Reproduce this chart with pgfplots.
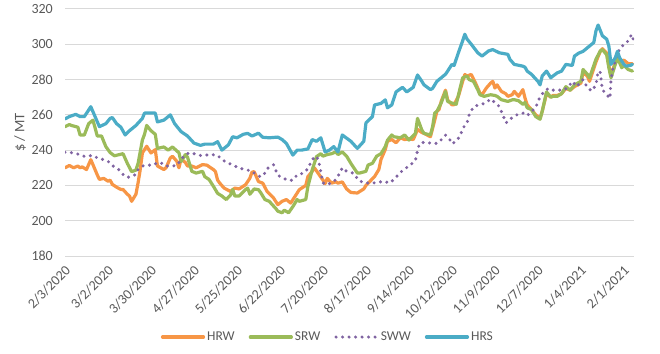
\documentclass[border=0pt]{standalone}
\usepackage{pgfplots}
\pgfplotsset{compat=1.18}
\usepackage{fontspec}
\setmainfont{Carlito}
\definecolor{hrw}{HTML}{F79646}
\definecolor{srw}{HTML}{9BBB59}
\definecolor{sww}{HTML}{8064A2}
\definecolor{hrs}{HTML}{4BACC6}
\definecolor{labelgray}{HTML}{595959}
\definecolor{gridgray}{HTML}{D9D9D9}
\begin{document}
\begin{tikzpicture}
\path[use as bounding box] (-65bp,-98bp) rectangle (595bp,256bp);
\begin{axis}[
  at={(0,0)}, anchor=south west,
  scale only axis, width=569bp, height=247bp,
  xmin=0, xmax=264.7, ymin=180, ymax=320,
  ytick={180,200,...,320},
  xtick={0,20,...,260},
  xticklabels={2/3/2020,3/2/2020,3/30/2020,4/27/2020,5/25/2020,6/22/2020,7/20/2020,8/17/2020,9/14/2020,10/12/2020,11/9/2020,12/7/2020,1/4/2021,2/1/2021},
  ymajorgrids, grid style={draw=gridgray, line width=1bp},
  axis line style={draw=none},
  tick style={draw=none},
  /pgf/number format/assume math mode=true,
  tick label style={font=\fontsize{14bp}{16bp}\selectfont, text=labelgray},
  yticklabel style={anchor=east, inner sep=0pt, xshift=-12bp},
  xticklabel style={xshift=3bp, yshift=-12bp, rotate=45, anchor=east, inner sep=0pt},
  ylabel={\$ / MT},
  every axis y label/.style={at={(axis description cs:-0.079,0.5)}, rotate=90, anchor=center, font=\fontsize{14.5bp}{16bp}\selectfont, text=labelgray},
  legend columns=4,
  legend style={at={(0.462,-0.328)}, anchor=center, draw=none, fill=none, font=\fontsize{13.5bp}{16bp}\selectfont, text=labelgray, inner sep=0pt, nodes={inner sep=2bp}, /tikz/every even column/.append style={column sep=12bp}},
  legend image code/.code={\draw[#1] (0bp,0bp) -- (41bp,0bp);},
  every axis plot/.append style={line cap=round, line join=round},
]
\addplot[hrw, line width=3.2bp] coordinates {
(0,230)(2,231.3)(4,230)(6,231)(7,230)(8,230.5)(10,229)(12,234.6)(13,231.8)(15,226)(16,223.4)(18,224)(20,222.4)(21,223)(22,220.6)(24,219)(26,217.7)(27,217.7)(29,215)(30,214)(31,211)(33,215)(34,221.5)(35,229)(36,238.4)(38,242.2)(39,240.3)(40,238.4)(42,240.3)(43,231)(46,229)(47,230)(49,235.6)(50,236.5)(52,233.7)(53,230)(54,235)(56,233)(57,231)(59,231)(61,230)(64,231.8)(66,231.5)(69,229)(70,227.8)(71,223)(72,221.3)(74,218.5)(77,216.6)(79,218.5)(81,218)(84,220.4)(86,224.1)(87,227.5)(88,227.8)(90,222.2)(92,221.3)(94,216.6)(97,212.9)(99,209.1)(101,211)(103,212)(105,210)(107,213.8)(109,217.6)(112,220)(113,225)(115,228)(116,230)(118,226.5)(120,223)(121,221)(122,224)(124,221.3)(126,222)(127,221.3)(129,222)(131,218)(133,216)(136,215.7)(137,216.5)(139,218)(140,220)(142,222.5)(144,225)(146,229)(147,234.7)(149,240.4)(150,245)(152,246)(154,244.2)(156,247)(158,246)(160,246.5)(162,246)(164,251.7)(166,250)(167,249.5)(170,247.6)(172,257)(173,262)(174,263)(175,267.6)(177,274)(178,268.5)(180,265.7)(181,265.7)(183,270.5)(185,279)(186,282.9)(187,282)(189,282.9)(191,278)(192,275.2)(193,272.4)(194,271.4)(196,275.2)(198,278)(199,279)(200,275.2)(201,277)(203,273.3)(205,272)(206,270.5)(208,271.4)(209,273.3)(211,270.5)(213,274.3)(214,269.5)(215,265.7)(217,263)(219,260)(221,258)(222,262)(224,272)(226,270)(227,271)(229,271)(231,272)(233,275)(235,274)(237,276)(240,278)(241,284)(243,282)(244,279)(247,290)(249,296)(250,297.5)(252,295)(253,288)(254,282)(256,290)(257,292)(259,290.5)(260,291)(262,289)(264,289)
};
\addlegendentry{HRW}
\addplot[srw, line width=3.2bp] coordinates {
(0,253.3)(2,254.5)(3,254)(6,253)(7,248.6)(9,248.6)(11,255)(13,257)(14,252.6)(15,248)(17,248)(19,242)(21,238.6)(23,236.8)(27,238)(29,232.5)(31,227.8)(33,228.7)(34,232.5)(36,245.7)(37,249)(38,254)(40,251)(42,249)(43,241)(46,241.8)(48,240)(50,241.8)(53,238.5)(54,233.5)(56,237.5)(57,236)(59,228)(61,227)(64,228)(65,225)(67,223.4)(69,219.6)(71,215.5)(73,214)(75,212)(77,214.5)(78,217.7)(79,214)(81,214)(84,217.7)(85,218.5)(86,215)(88,218)(90,217.6)(91,216)(92,214)(93,212)(95,211)(98,207)(99,205.4)(101,204.5)(102,206)(104,204.5)(106,208)(108,212)(109,211)(112,212)(113,219.4)(115,228.8)(117,236.3)(119,238)(120,236.6)(122,237.5)(124,238)(126,239)(127,237.5)(129,239)(131,236.6)(133,232.5)(136,227)(137,227)(140,228)(141,231.6)(143,232.5)(145,236.6)(147,238)(149,242)(150,245.6)(152,248.6)(153,247.6)(156,247)(158,248.6)(160,245.7)(163,249.5)(164,258)(166,251.4)(167,249.5)(170,248.6)(171,253.3)(172,261)(173,262)(175,266.7)(177,273.3)(178,267.6)(180,266.7)(182,266)(184,276.2)(185,281)(187,282)(188,280)(190,279)(192,274.3)(193,271.4)(195,270.5)(198,271.4)(200,271)(201,270.5)(203,268.6)(206,267.6)(208,268.5)(209,268.6)(211,268)(213,266)(214,267)(215,264)(217,263)(219,259)(221,257.5)(222,262)(224,273)(226,270)(227,270.5)(229,270.5)(231,272)(233,276)(235,274)(237,277)(240,279)(241,285.7)(243,283)(244,281)(247,291.5)(249,296.2)(250,297)(252,294)(253,286.7)(254,281)(256,288.6)(257,292.4)(259,286.7)(260,288)(262,285.7)(264,284.8)
};
\addlegendentry{SRW}
\addplot[sww, line width=3.4bp, dash pattern=on 0bp off 6.5bp] coordinates {
(0,238.8)(2,238.8)(5,238)(7,237.5)(9,236.5)(13,237)(15,235.6)(18,234.6)(20,233.7)(22,231.3)(25,229)(27,226.2)(29,224.5)(31,225.2)(33,226.2)(34,229)(36,231)(39,231.5)(41,231.5)(43,233)(45,232.5)(47,231)(50,231)(52,231.3)(54,234.6)(56,237.5)(58,238.5)(60,238)(63,237)(65,237)(67,237.5)(70,237.3)(71,237)(73,234.6)(76,232.6)(78,231.7)(81,229.8)(84,229)(87,228)(88,227)(91,224.8)(93,227)(94,229.5)(97,231.7)(99,225.8)(101,224.4)(104,222.8)(106,223)(108,226)(111,227)(113,229.5)(115,234.7)(117,236.6)(118,234)(120,221.4)(122,220.5)(125,222)(127,225.2)(129,230)(131,228)(134,227)(137,222.5)(140,221.4)(143,221.4)(145,221.5)(148,222.4)(151,221.4)(153,223.3)(155,226)(157,228.5)(160,231)(162,233)(163,234)(164,240)(165,243.8)(167,244.5)(170,244)(173,243.8)(174,244.5)(177,248.5)(179,246)(180,243.6)(182,245)(184,248.5)(185,252.4)(187,255.2)(188,260)(190,264.5)(192,265.5)(194,266)(196,267)(198,269)(200,267)(202,264.8)(204,259)(205,255.5)(206,256)(208,258.5)(211,260.5)(213,261)(215,259.5)(217,262)(219,264)(220,267.6)(221,270)(223,273.5)(225,275)(227,274)(229,274)(232,274)(234,275.5)(236,279)(238,276)(241,280)(243,275.5)(245,273.5)(247,277)(248,284.8)(249,284)(250,274)(251,273)(253,270)(253.5,269.3)(254,280)(255,287)(256,290.5)(257,295)(259,299)(260,299.5)(262,302)(263,304.5)(264,305.5)(264.5,301)
};
\addlegendentry{SWW}
\addplot[hrs, line width=3.2bp] coordinates {
(0,257.7)(2,259)(5,260.3)(7,259)(9,259)(12,264.6)(14,259)(16,253.3)(19,255)(21,258)(22,258.5)(24,255)(26,253)(28,248.6)(30,251)(31,252)(33,254)(36,258)(37,261)(40,261)(42,261)(43,256)(46,257)(49,260)(51,255)(54,250.5)(57,248)(60,244)(63,242.7)(65,243.4)(69,243.4)(71,244.8)(73,240)(76,243)(78,247.6)(80,247)(83,249)(85,249.5)(87,248)(90,249.6)(92,247.3)(95,247)(99,247.4)(101,246)(103,243.8)(106,237.2)(108,240)(110,240)(113,240.7)(115,246)(117,245)(119,247)(121,239)(123,240)(125,242)(127,239)(129,248.6)(133,245)(136,241)(139,245)(140,255.4)(143,259)(144,265.6)(147,266.5)(149,268.5)(150,264)(152,265.6)(154,273)(157,275.6)(159,273)(162,275.6)(164,282.6)(166,279)(167,277)(170,274.3)(171,275)(173,279)(175,281)(177,283)(178,284.8)(180,288.6)(181,288)(183,295.2)(185,302)(186,305.7)(187,303)(189,300)(192,295.2)(194,293.3)(197,296.2)(199,297)(202,295.2)(206,294.3)(207,291.4)(209,288.6)(213,287.6)(214,287)(215,284.8)(217,283)(220,279)(221,277)(222,282)(224,284.8)(226,281)(227,282)(229,283.8)(231,284.8)(233,288.6)(236,288)(237,293.3)(239,295)(241,296)(243,298)(244,299)(246,301)(247,307.6)(248,310.9)(250,304.8)(252,302.9)(253,299)(254,288.6)(256,292.4)(257,296)(258,292.4)(260,288.6)(261,287.6)(263,288)(264,288.6)
};
\addlegendentry{HRS}
\end{axis}
\end{tikzpicture}
\end{document}
